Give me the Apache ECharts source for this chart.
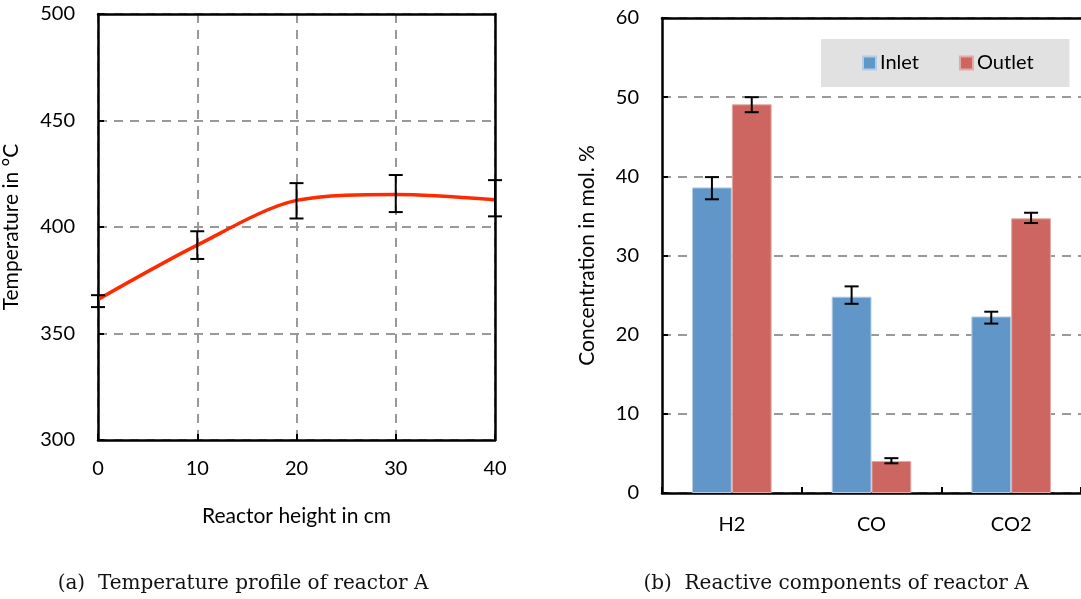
<!DOCTYPE html>
<html>
<head>
<meta charset="utf-8">
<script src="https://cdn.jsdelivr.net/npm/echarts@6/dist/echarts.min.js"></script>
<style>
  html, body { margin: 0; padding: 0; background: #fff; }
  #chart { width: 1081px; height: 599px; }
</style>
</head>
<body>
<div id="chart"></div>
<script>
// (a) temperature profile
const heights = [0, 10, 20, 30, 40];
const tempMean = [366, 391.5, 412.5, 415.3, 412.8];
const tempLow = [362.4, 385, 404, 407, 405];
const tempHigh = [368, 398, 420.6, 424.4, 422];

// (b) reactive components
const components = ['H2', 'CO', 'CO2'];
const inletVals = [38.6, 24.8, 22.3];
const inletLow = [37.1, 23.9, 21.4];
const inletHigh = [39.9, 26.1, 22.9];
const outletVals = [49.1, 4.05, 34.7];
const outletLow = [48.1, 3.75, 34.1];
const outletHigh = [50.0, 4.4, 35.4];

const font = 'Lato';
const capW = 7;

// 误差线
function errBar(offsetSign, gapFrac) {
  return function (params, api) {
    const lo = api.coord([api.value(0), api.value(1)]);
    const hi = api.coord([api.value(0), api.value(2)]);
    let dx = 0;
    if (offsetSign) {
      const band = api.size([1, 0])[0];
      dx = offsetSign * band * (1 - gapFrac) / 4;
    }
    const x = lo[0] + dx;
    const st = { stroke: '#000', lineWidth: 2 };
    return {
      type: 'group',
      children: [
        { type: 'line', shape: { x1: x, y1: lo[1], x2: x, y2: hi[1] }, style: st },
        { type: 'line', shape: { x1: x - capW, y1: lo[1], x2: x + capW, y2: lo[1] }, style: st },
        { type: 'line', shape: { x1: x - capW, y1: hi[1], x2: x + capW, y2: hi[1] }, style: st }
      ]
    };
  };
}

const gapFrac = 0.43;
const dashed = { show: true, lineStyle: { color: '#999', width: 2, type: [9, 7] } };
const axisLine = { show: true, onZero: false, lineStyle: { color: '#000', width: 2.5 } };
const tick = { show: true, inside: true, length: 6, lineStyle: { color: '#000', width: 2 } };
const labelStyle = { color: '#000', fontSize: 20, fontFamily: font };
const nameStyle = { color: '#000', fontSize: 21, fontFamily: font };

// 边框轴：只画线
function frameAxis(extra) {
  return Object.assign({
    axisLine: axisLine, axisTick: { show: false }, axisLabel: { show: false }, splitLine: { show: false }
  }, extra);
}

const option = {
  animation: false,
  grid: [
    { left: 96, top: 14, width: 399, height: 426 },
    { left: 662, top: 18, width: 428, height: 475 }
  ],
  legend: {
    left: 821, top: 39,
    backgroundColor: '#e1e1e1',
    padding: [14, 36, 14, 41],
    itemGap: 40,
    itemWidth: 13, itemHeight: 13,
    icon: 'rect',
    textStyle: { fontSize: 20, fontFamily: font, color: '#000', padding: [0, 0, 0, -1] },
    data: ['Inlet', 'Outlet']
  },
  xAxis: [
    {
      gridIndex: 0, type: 'value', min: 0, max: 40, interval: 10,
      axisLine: axisLine, axisTick: tick,
      splitLine: dashed,
      axisLabel: Object.assign({ margin: 19 }, labelStyle),
      name: 'Reactor height in cm', nameLocation: 'middle', nameGap: 66,
      nameTextStyle: nameStyle
    },
    {
      gridIndex: 1, type: 'category', data: components,
      axisLine: axisLine,
      axisTick: Object.assign({ interval: 0 }, tick),
      splitLine: { show: false },
      axisLabel: Object.assign({ margin: 22, interval: 0 }, labelStyle)
    },
    frameAxis({ gridIndex: 0, type: 'value', min: 0, max: 40, position: 'top' }),
    frameAxis({ gridIndex: 1, type: 'value', min: 0, max: 1, position: 'top' })
  ],
  yAxis: [
    {
      gridIndex: 0, type: 'value', min: 300, max: 500, interval: 50,
      axisLine: axisLine, axisTick: tick,
      splitLine: dashed,
      axisLabel: Object.assign({ margin: 23 }, labelStyle),
      name: 'Temperature in °C', nameLocation: 'middle', nameGap: 76,
      nameTextStyle: nameStyle
    },
    {
      gridIndex: 1, type: 'value', min: 0, max: 60, interval: 10,
      axisLine: axisLine, axisTick: tick,
      splitLine: dashed,
      axisLabel: Object.assign({ margin: 23 }, labelStyle),
      name: 'Concentration in mol. %', nameLocation: 'middle', nameGap: 64,
      nameTextStyle: nameStyle
    },
    frameAxis({ gridIndex: 0, type: 'value', min: 300, max: 500, position: 'right' })
  ],
  series: [
    {
      type: 'line', xAxisIndex: 0, yAxisIndex: 0,
      data: heights.map((h, i) => [h, tempMean[i]]),
      smooth: 0.3, showSymbol: false,
      lineStyle: { color: '#ff2a00', width: 3.5 }, z: 3
    },
    {
      type: 'custom', xAxisIndex: 0, yAxisIndex: 0,
      data: heights.map((h, i) => [h, tempLow[i], tempHigh[i]]),
      renderItem: errBar(0, 0), z: 4, clip: false
    },
    {
      name: 'Inlet', type: 'bar', xAxisIndex: 1, yAxisIndex: 1,
      data: inletVals, barGap: '0%', barCategoryGap: (gapFrac * 100) + '%',
      itemStyle: { color: '#6196c8', borderColor: '#b4cde6', borderWidth: 1 }
    },
    {
      name: 'Outlet', type: 'bar', xAxisIndex: 1, yAxisIndex: 1,
      data: outletVals, barGap: '0%', barCategoryGap: (gapFrac * 100) + '%',
      itemStyle: { color: '#cd6661', borderColor: '#e3aaa7', borderWidth: 1 }
    },
    {
      type: 'custom', xAxisIndex: 1, yAxisIndex: 1,
      data: components.map((c, i) => [i, inletLow[i], inletHigh[i]]),
      renderItem: errBar(-1, gapFrac), z: 5
    },
    {
      type: 'custom', xAxisIndex: 1, yAxisIndex: 1,
      data: components.map((c, i) => [i, outletLow[i], outletHigh[i]]),
      renderItem: errBar(1, gapFrac), z: 5
    }
  ],
  graphic: [
    { type: 'text', x: 243, y: 584, style: { text: '(a)  Temperature profile of reactor A', fontSize: 20, fontFamily: 'DejaVu Serif', fill: '#111', align: 'center', verticalAlign: 'middle' } },
    { type: 'text', x: 836, y: 584, style: { text: '(b)  Reactive components of reactor A', fontSize: 20, fontFamily: 'DejaVu Serif', fill: '#111', align: 'center', verticalAlign: 'middle' } }
  ]
};

const myChart = echarts.init(document.getElementById('chart'));
myChart.setOption(option);
</script>
</body>
</html>
